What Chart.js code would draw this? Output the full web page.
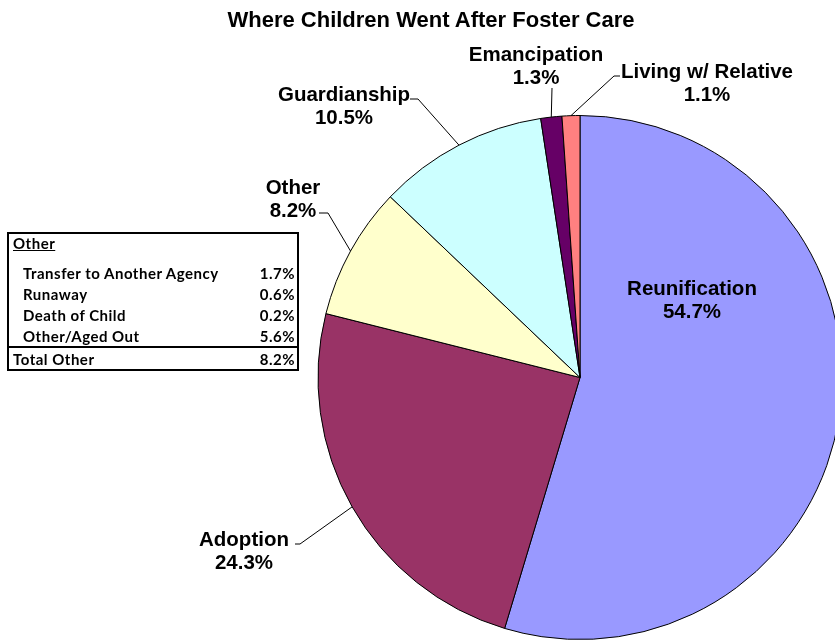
<!DOCTYPE html>
<html>
<head>
<meta charset="utf-8">
<script src="https://cdn.jsdelivr.net/npm/chart.js@4"></script>
<style>
  html, body { margin: 0; padding: 0; background: #fff; overflow: hidden; width: 835px; height: 641px; }
  #wrap { position: relative; width: 835px; height: 641px; overflow: hidden; }
  #pie { position: absolute; left: 0; top: 0; }
  .lbl { position: absolute; font: bold 20.5px "Liberation Sans", Arial, sans-serif; color: #000; text-align: center; line-height: 23px; white-space: nowrap; transform: translateX(-50%); }
  #title { position: absolute; left: 0; width: 862px; top: 7px; text-align: center; font: bold 22px "Liberation Sans", Arial, sans-serif; }
  #other { position: absolute; left: 7px; top: 232px; width: 288px; height: 135px; border: 2px solid #000; font: bold 15px Lato, sans-serif; letter-spacing: 0.5px; }
  #other div { position: absolute; white-space: nowrap; }
  #other .v { right: 2px; text-align: right; }
</style>
</head>
<body>
<div id="wrap">
  <canvas id="pie" width="1160" height="641"></canvas>
  <div id="title">Where Children Went After Foster Care</div>
  <div id="labels"></div>
  <div id="other"></div>
</div>
<script>
const categories = ['Reunification', 'Adoption', 'Other', 'Guardianship', 'Emancipation', 'Living w/ Relative'];
const values = [54.7, 24.3, 8.2, 10.5, 1.3, 1.1];
const colors = ['#9999FF', '#993366', '#FFFFCC', '#CCFFFF', '#660066', '#FF8080'];

const otherNames = ['Transfer to Another Agency', 'Runaway', 'Death of Child', 'Other/Aged Out'];
const otherValues = [1.7, 0.6, 0.2, 5.6];
const otherTotal = 8.2;

// label centre x / top y, and leader line elbow (null = inside the slice)
const labelPos = [
  { x: 692, y: 276, elbow: null },
  { x: 244, y: 527, elbow: [[295, 544], [300, 544]] },
  { x: 293, y: 175, elbow: [[319, 213], [328, 213]] },
  { x: 344, y: 82, elbow: [[410, 99], [418, 99]] },
  { x: 536, y: 42, elbow: [[552, 88]] },
  { x: 707, y: 59, elbow: [[620, 76], [614, 76]] }
];

const fmt = v => v.toFixed(1) + '%';

// slice labels
const labelBox = document.getElementById('labels');
categories.forEach((c, i) => {
  const d = document.createElement('div');
  d.className = 'lbl';
  d.style.left = labelPos[i].x + 'px';
  d.style.top = labelPos[i].y + 'px';
  d.innerHTML = c + '<br>' + fmt(values[i]);
  labelBox.appendChild(d);
});

// "Other" breakdown table
const tbl = document.getElementById('other');
let html = '<div style="left:4px;top:0px;text-decoration:underline">Other</div>';
otherNames.forEach((n, i) => {
  const y = 30 + i * 21;
  html += `<div style="left:14px;top:${y}px">${n}</div>`;
  html += `<div class="v" style="top:${y}px">${fmt(otherValues[i])}</div>`;
});
html += '<div style="left:-2px;right:-2px;top:112px;border-top:2px solid #000"></div>';
html += `<div style="left:4px;top:116px">Total Other</div>`;
html += `<div class="v" style="top:116px">${fmt(otherTotal)}</div>`;
tbl.innerHTML = html;

const leaders = {
  id: 'leaders',
  afterDraw(chart) {
    const ctx = chart.ctx;
    const arcs = chart.getDatasetMeta(0).data;
    ctx.save();
    ctx.strokeStyle = '#000';
    ctx.lineWidth = 1;
    arcs.forEach((a, i) => {
      const pts = labelPos[i].elbow;
      if (!pts) return;
      const mid = (a.startAngle + a.endAngle) / 2;
      const ex = a.x + Math.cos(mid) * a.outerRadius;
      const ey = a.y + Math.sin(mid) * a.outerRadius;
      ctx.beginPath();
      ctx.moveTo(pts[0][0], pts[0][1]);
      for (let k = 1; k < pts.length; k++) ctx.lineTo(pts[k][0], pts[k][1]);
      ctx.lineTo(ex, ey);
      ctx.stroke();
    });
    ctx.restore();
  }
};

new Chart(document.getElementById('pie'), {
  type: 'pie',
  data: {
    labels: categories,
    datasets: [{
      data: values,
      backgroundColor: colors,
      borderColor: '#000',
      borderWidth: 1
    }]
  },
  options: {
    responsive: false,
    animation: false,
    layout: { padding: { top: 115, bottom: 1 } },
    plugins: { legend: { display: false }, tooltip: { enabled: false }, title: { display: false } }
  },
  plugins: [leaders]
});
</script>
</body>
</html>
